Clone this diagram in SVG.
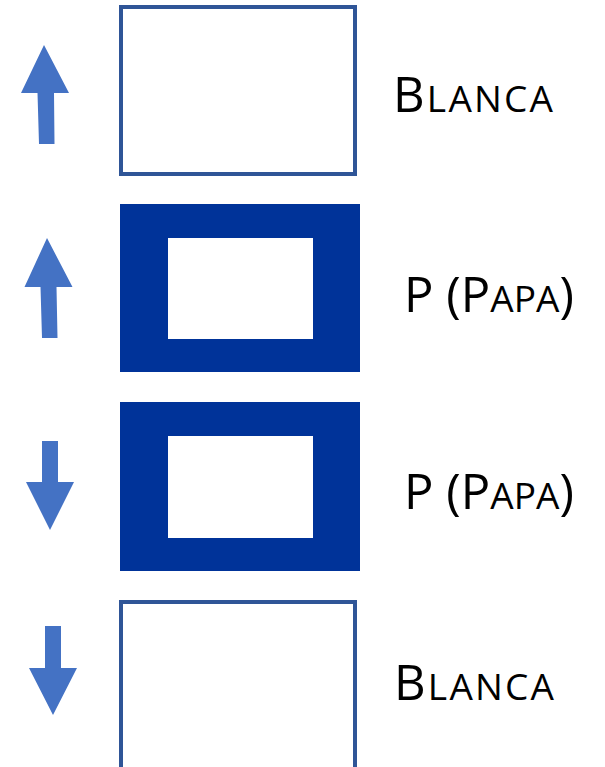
<svg xmlns="http://www.w3.org/2000/svg" width="605" height="767" viewBox="0 0 605 767">
<style>
.arrow{fill:#4472C4}
.white{fill:#FFFFFF;stroke:#2F5597;stroke-width:4}
.flag{fill:#003399}
.inner{fill:#FFFFFF}
.lbl{font-family:"Open Sans","Liberation Sans",sans-serif;fill:#000000;font-size:49px}
.sc{font-size:37px}
</style>
<rect width="605" height="767" fill="#FFFFFF"/>
<g id="arrow1"><polygon class="arrow" points="44,45 69,93 54,93 54.5,144 39,144 37.5,93 21,93"/></g>
<g id="box1"><rect class="white" x="121" y="7" width="234" height="167"/></g>
<g id="label1"><text class="lbl" x="393" y="112" textLength="160" lengthAdjust="spacing">B<tspan class="sc">LANCA</tspan></text></g>

<g id="arrow2"><polygon class="arrow" points="47,238 72.5,287 56.5,287 57.5,338 42,338 40.5,287 24.5,287"/></g>
<g id="box2"><rect class="flag" x="120" y="204" width="240" height="168"/><rect class="inner" x="168" y="238" width="145" height="101"/></g>
<g id="label2"><text class="lbl" x="404" y="312" textLength="170" lengthAdjust="spacing">P (P<tspan class="sc">APA</tspan>)</text></g>

<g id="arrow3"><polygon class="arrow" points="42,441 58,441 58,482 74,482 50,530 26,482 42,482"/></g>
<g id="box3"><rect class="flag" x="120" y="402" width="240" height="169"/><rect class="inner" x="168" y="436" width="145" height="102"/></g>
<g id="label3"><text class="lbl" x="404" y="509" textLength="170" lengthAdjust="spacing">P (P<tspan class="sc">APA</tspan>)</text></g>

<g id="arrow4"><polygon class="arrow" points="45,626 61,626 61,668 77,668 53,715 29,668 45,668"/></g>
<g id="box4"><rect class="white" x="121" y="602" width="234" height="180"/></g>
<g id="label4"><text class="lbl" x="394" y="700" textLength="160" lengthAdjust="spacing">B<tspan class="sc">LANCA</tspan></text></g>
</svg>
